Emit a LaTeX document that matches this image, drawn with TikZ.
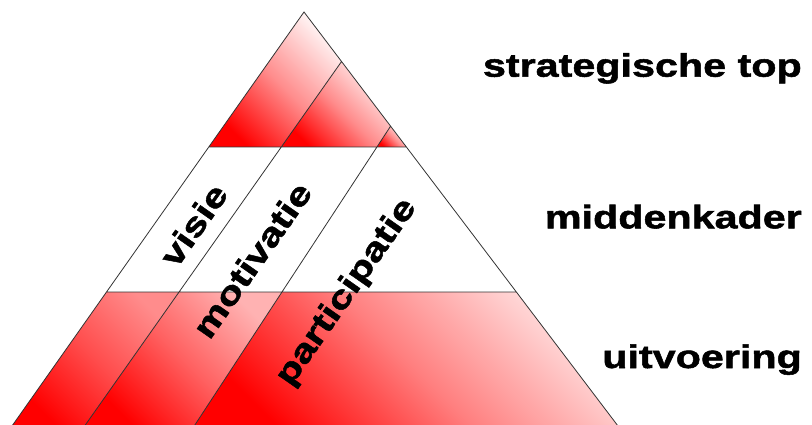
\documentclass[tikz,border=0pt]{standalone}
\usepackage{fontspec}
\newfontfamily\lblfont{Liberation Sans}[FakeStretch=1.27,FakeBold=1.6]
\usepackage{tikz}

\begin{document}
\begin{tikzpicture}[x=1pt,y=-1pt,
  tier/.style={font=\lblfont\bfseries\fontsize{32.5}{39}\selectfont,anchor=base east,inner sep=0pt},
  pillar/.style={font=\lblfont\bfseries\fontsize{32.5}{39}\selectfont,rotate=55,inner sep=0pt},
  band/.style 2 args={bottom color=red,top color=red!#1,middle color=red!#2,shading angle=-45},
  edge/.style={draw=black!80,line width=0.8pt}]

\useasboundingbox (0,0) rectangle (812,425);

    % The pyramid
	\coordinate (apex) at (304,12);
	\coordinate (bl) at (12,426);
	\coordinate (br) at (618,426);
	\coordinate (d1b) at (84.6,426);
	\coordinate (d1t) at (341.5,61.6);
	\coordinate (d2b) at (194.2,426);
	\coordinate (d2t) at (390.5,126.3);

	% Cuts at the two level lines
	\coordinate (l1) at (208.8,147);
	\coordinate (a1) at (281.3,147);
	\coordinate (b1) at (376.9,147);
	\coordinate (r1) at (406.4,147);
	\coordinate (l2) at (106.5,292);
	\coordinate (a2) at (179.1,292);
	\coordinate (b2) at (282,292);
	\coordinate (r2) at (516.4,292);

	% Shaded parts
	\shade[band={5}{45}] (l1) -- (apex) -- (d1t) -- (a1) -- cycle;
	\shade[band={5}{45}] (a1) -- (d1t) -- (d2t) -- (b1) -- cycle;
	\shade[band={5}{45}] (b1) -- (d2t) -- (r1) -- cycle;
	\shade[band={45}{70}] (bl) -- (l2) -- (a2) -- (d1b) -- cycle;
	\shade[band={30}{62}] (d1b) -- (a2) -- (b2) -- (d2b) -- cycle;
	\shade[band={12}{50}] (d2b) -- (b2) -- (r2) -- (br) -- cycle;

	% Lines
	\path[edge]
	(bl) -- (apex) -- (br)
	(l1) -- (r1)
	(l2) -- (r2)
	(d1b) -- (d1t)
	(d2b) -- (d2t);

	% Labels
	\node [pillar] at (193.5,225) (visie) {visie};
	\node [pillar] at (252,260) (motivatie) {motivatie};
	\node [pillar] at (347,292.5) (participatie) {participatie};
	\node [tier] at (802,76.7) (top) {strategische top};
	\node [tier] at (802,228.3) (midden) {middenkader};
	\node [tier] at (802,368) (uitvoering) {uitvoering};

\end{tikzpicture}
\end{document}
